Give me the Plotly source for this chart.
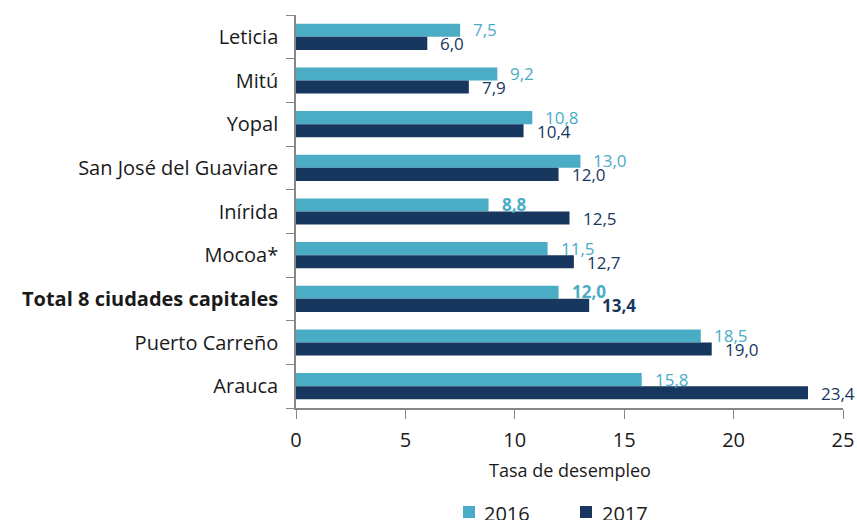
import plotly.graph_objects as go

cities = ["Leticia", "Mitú", "Yopal", "San José del Guaviare", "Inírida", "Mocoa*",
          "Total 8 ciudades capitales", "Puerto Carreño", "Arauca"]
v2016 = [7.5, 9.2, 10.8, 13.0, 8.8, 11.5, 12.0, 18.5, 15.8]
v2017 = [6.0, 7.9, 10.4, 12.0, 12.5, 12.7, 13.4, 19.0, 23.4]
bold2016 = [False, False, False, False, True, False, True, False, False]
bold2017 = [False, False, False, False, False, False, True, False, False]
x_ticks = [0, 5, 10, 15, 20, 25]
series_names = ["2016", "2017"]

c16 = "#4BACC6"
c17 = "#17375E"
txt = "#1a1a1a"
font = "Open Sans"

W, H = 857, 520
L, R, T, B = 296, 14, 15, 112
PW, PH = W - L - R, H - T - B

def px_x(px):
    return (px - L) / PW

def px_y(py):
    return (H - B - py) / PH

def fmt(v, b):
    s = f"{v:.1f}".replace(".", ",")
    return f"<b>{s}</b>" if b else s

fig = go.Figure()
fig.add_trace(go.Bar(y=cities, x=v2016, orientation="h", name=series_names[0],
                     marker=dict(color=c16, line=dict(width=0))))
fig.add_trace(go.Bar(y=cities, x=v2017, orientation="h", name=series_names[1],
                     marker=dict(color=c17, line=dict(width=0))))

annotations = []
for c, v, b in zip(cities, v2016, bold2016):
    annotations.append(dict(x=v, y=c, text=fmt(v, b), showarrow=False, xanchor="left",
                            xshift=11, yshift=7, font=dict(family=font, size=17, color=c16)))
for c, v, b in zip(cities, v2017, bold2017):
    annotations.append(dict(x=v, y=c, text=fmt(v, b), showarrow=False, xanchor="left",
                            xshift=11, yshift=-7, font=dict(family=font, size=17, color=c17)))

# x-axis title
annotations.append(dict(xref="paper", yref="paper", x=0.5, y=px_y(470), text="Tasa de desempleo",
                        showarrow=False, xanchor="center", yanchor="middle",
                        font=dict(family=font, size=18, color=txt)))

# manual legend (partly cut off at the bottom like the reference)
shapes = []
leg = [(463, 482, c16, series_names[0]), (580, 600, c17, series_names[1])]
for sx, tx, col, name in leg:
    shapes.append(dict(type="rect", xref="paper", yref="paper",
                       x0=px_x(sx), x1=px_x(sx + 12), y0=px_y(518), y1=px_y(506),
                       fillcolor=col, line=dict(width=0)))
    annotations.append(dict(xref="paper", yref="paper", x=px_x(tx), y=px_y(513), text=name,
                            showarrow=False, xanchor="left", yanchor="middle",
                            font=dict(family=font, size=20, color=txt)))

ticktext = [f"<b>{c}</b>" if c.startswith("Total") else c for c in cities]

fig.update_layout(
    width=W, height=H,
    margin=dict(l=L, r=R, t=T, b=B),
    paper_bgcolor="white", plot_bgcolor="white",
    barmode="group", bargap=0.4, bargroupgap=0,
    font=dict(family=font, size=20, color=txt),
    annotations=annotations, shapes=shapes,
    showlegend=False,
    xaxis=dict(range=[0, 25], tickvals=x_ticks, ticks="outside", ticklen=9,
               tickcolor="#868686", showline=True, linecolor="#868686", linewidth=1.5,
               showgrid=False, zeroline=False, automargin=False, ticklabelstandoff=4,
               tickfont=dict(family=font, size=20, color=txt)),
    yaxis=dict(type="category", autorange="reversed", tickmode="array", tickvals=cities,
               ticktext=ticktext, tickson="boundaries", ticks="outside", ticklen=8,
               tickcolor="#868686", showline=True, linecolor="#868686", linewidth=1.5,
               showgrid=False, ticklabelstandoff=12, automargin=False,
               tickfont=dict(family=font, size=20, color=txt)),
)

fig.write_html("out.html", config={"displayModeBar": False},
               post_script="document.body.style.margin='0';document.body.style.overflow='hidden';")
